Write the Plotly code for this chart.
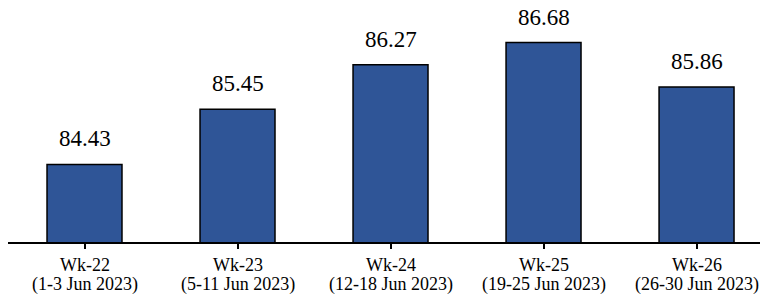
import plotly.graph_objects as go

categories = ["Wk-22", "Wk-23", "Wk-24", "Wk-25", "Wk-26"]
date_labels = ["(1-3 Jun 2023)", "(5-11 Jun 2023)", "(12-18 Jun 2023)", "(19-25 Jun 2023)", "(26-30 Jun 2023)"]
values = [84.43, 85.45, 86.27, 86.68, 85.86]

SERIF = "Times New Roman, Liberation Serif, serif"

fig = go.Figure()
fig.add_trace(go.Bar(
    x=list(range(len(categories))), y=values,
    marker=dict(color="#2F5597", line=dict(color="black", width=1.5)),
    width=0.49,
))

annotations = []
for i, v in enumerate(values):
    annotations.append(dict(x=i, y=v, xref="x", yref="y", text=f"{v:.2f}", showarrow=False,
                            yanchor="bottom", yshift=11,
                            font=dict(family=SERIF, size=23, color="black")))
    annotations.append(dict(x=i, y=0, xref="x", yref="paper", text=categories[i], showarrow=False,
                            yanchor="top", yshift=-11,
                            font=dict(family=SERIF, size=18, color="black")))
    annotations.append(dict(x=i, y=0, xref="x", yref="paper", text=date_labels[i], showarrow=False,
                            yanchor="top", yshift=-30,
                            font=dict(family=SERIF, size=18, color="black")))

fig.update_layout(
    width=760, height=291,
    margin=dict(l=0, r=0, t=0, b=57),
    paper_bgcolor="white", plot_bgcolor="white",
    showlegend=False,
    annotations=annotations,
    xaxis=dict(range=[-0.5, 4.467], tickmode="array", tickvals=[0, 1, 2, 3, 4], ticktext=[""] * 5,
               tickson="boundaries", ticks="outside", ticklen=5, tickwidth=1.5, tickcolor="black",
               showline=True, linecolor="black", linewidth=1.5, showgrid=False, zeroline=False),
    yaxis=dict(range=[83.0, 87.317], visible=False, showgrid=False, zeroline=False),
)

fig.write_html("out.html")
